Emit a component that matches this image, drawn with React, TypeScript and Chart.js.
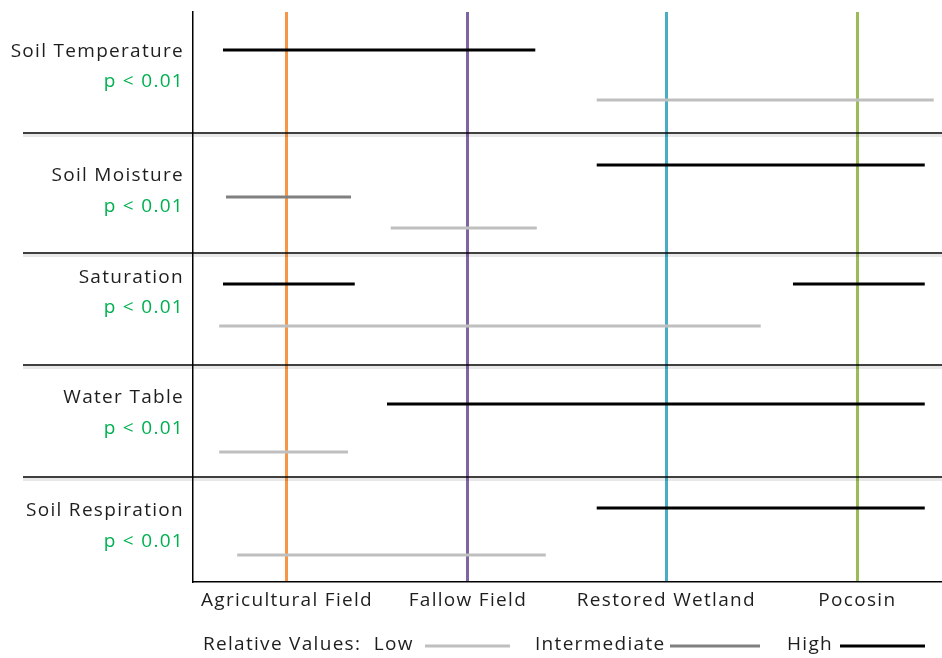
import React, { useEffect, useRef } from "react";
import { Chart, registerables } from "chart.js";

Chart.register(...registerables);

// ---- data ----
const rows = ["Soil Temperature", "Soil Moisture", "Saturation", "Water Table", "Soil Respiration"];
const pValues = ["p < 0.01", "p < 0.01", "p < 0.01", "p < 0.01", "p < 0.01"];
// vertical position (0 = top, 570 = bottom) of each row's name and p-value label
const rowNameY = [40, 164, 266, 386, 499];
const rowPY = [69.5, 194.5, 295.5, 416.5, 529.5];
// row separators
const separatorY = [121, 241, 353, 465];

const sites = ["Agricultural Field", "Fallow Field", "Restored Wetland", "Pocosin"];
// positions of sites along the 0–100 horizontal scale
const sitePos = [12.55, 36.7, 63.2, 88.7];
const siteColors = ["#F79646", "#8064A2", "#4BACC6", "#9BBB59"];

// range segments: level 0 = Low, 1 = Intermediate, 2 = High
const segLevel = [2, 0, 2, 1, 0, 2, 2, 0, 2, 0, 2, 0];
const segY = [38, 88, 153, 185, 216, 272, 272, 314, 392, 440, 496, 543];
const segStart = [4.0, 53.9, 53.9, 4.4, 26.4, 4.0, 80.1, 3.5, 25.9, 3.5, 53.9, 5.9];
const segEnd = [45.7, 98.9, 97.7, 21.1, 45.9, 21.6, 97.7, 75.8, 97.7, 20.7, 97.7, 47.1];

const levelNames = ["Low", "Intermediate", "High"];
const levelColors = ["#BFBFBF", "#808080", "#000000"];

const TEXT = "#1e1e1e";
const GREEN = "#00B050";
const FONT = "'Open Sans', sans-serif";
const SPACING = "1.3px";

export default function App() {
  const ref = useRef<HTMLCanvasElement | null>(null);

  useEffect(() => {
    if (!ref.current) return;

    const yTicks: number[] = [];
    const yLabels: string[] = [];
    const yIsP: boolean[] = [];
    rows.forEach((r, i) => {
      yTicks.push(rowNameY[i]);
      yLabels.push(r);
      yIsP.push(false);
      yTicks.push(rowPY[i]);
      yLabels.push(pValues[i]);
      yIsP.push(true);
    });

    const datasets: any[] = [];
    // separator shadows and lines (extend into the label area)
    separatorY.forEach((y) => {
      datasets.push({
        data: [{ x: -22.7, y: y + 2.5 }, { x: 100, y: y + 2.5 }],
        borderColor: "rgba(0,0,0,0.09)",
        borderWidth: 3,
        pointRadius: 0,
        clip: false,
      });
      datasets.push({
        data: [{ x: -22.7, y }, { x: 100, y }],
        borderColor: "#000000",
        borderWidth: 1.5,
        pointRadius: 0,
        clip: false,
      });
    });
    segLevel.forEach((lv, i) => {
      datasets.push({
        data: [{ x: segStart[i], y: segY[i] }, { x: segEnd[i], y: segY[i] }],
        borderColor: levelColors[lv],
        borderWidth: 3,
        pointRadius: 0,
        borderCapStyle: "butt",
      });
    });

    const spacingPlugin = {
      id: "spacing",
      beforeUpdate(chart: any) {
        (chart.ctx as any).letterSpacing = SPACING;
      },
      beforeDraw(chart: any) {
        (chart.ctx as any).letterSpacing = SPACING;
      },
    };

    const legendPlugin = {
      id: "customLegend",
      afterDraw(chart: any) {
        const ctx = chart.ctx;
        ctx.save();
        (ctx as any).letterSpacing = SPACING;
        ctx.font = `19px ${FONT}`;
        ctx.fillStyle = TEXT;
        ctx.textBaseline = "middle";
        ctx.textAlign = "left";
        const y = 645;
        const textX = [203, 535, 787];
        const lineX = [[425, 510], [670, 760], [840, 925]];
        const texts = ["Relative Values:  " + levelNames[0], levelNames[1], levelNames[2]];
        texts.forEach((t, i) => {
          ctx.fillText(t, textX[i], y);
          ctx.beginPath();
          ctx.strokeStyle = levelColors[i];
          ctx.lineWidth = 3;
          ctx.moveTo(lineX[i][0], y + 1);
          ctx.lineTo(lineX[i][1], y + 1);
          ctx.stroke();
        });
        ctx.restore();
      },
    };

    const chart = new Chart(ref.current, {
      type: "scatter",
      data: { datasets },
      plugins: [spacingPlugin, legendPlugin],
      options: {
        animation: false,
        responsive: false,
        showLine: true,
        layout: { padding: { top: 12, right: 0, left: 0, bottom: 0 } },
        plugins: { legend: { display: false }, tooltip: { enabled: false } },
        scales: {
          x: {
            type: "linear",
            min: 0,
            max: 100,
            afterBuildTicks: (s: any) => {
              s.ticks = sitePos.map((v) => ({ value: v }));
            },
            afterFit: (s: any) => {
              s.height = 76;
              s.paddingLeft = 0;
              s.paddingRight = 0;
            },
            ticks: {
              autoSkip: false,
              maxRotation: 0,
              padding: 7,
              color: TEXT,
              font: { family: FONT, size: 19 },
              callback: (_v: any, i: number) => sites[i],
            },
            grid: {
              display: true,
              drawTicks: false,
              color: (c: any) => siteColors[c.index] ?? "transparent",
              lineWidth: 3,
            },
            border: { display: true, color: "#000", width: 1.5 },
          },
          y: {
            type: "linear",
            min: 0,
            max: 570,
            reverse: true,
            afterBuildTicks: (s: any) => {
              s.ticks = yTicks.map((v) => ({ value: v }));
            },
            afterFit: (s: any) => {
              s.width = 193;
              s.paddingTop = 0;
              s.paddingBottom = 0;
            },
            ticks: {
              autoSkip: false,
              padding: 9,
              color: (c: any) => (yIsP[c.index] ? GREEN : TEXT),
              font: { family: FONT, size: 19 },
              callback: (_v: any, i: number) => yLabels[i],
            },
            grid: { display: false, drawTicks: false },
            border: { display: true, color: "#000", width: 1.5 },
          },
        },
      } as any,
    });
    return () => chart.destroy();
  }, []);

  return (
    <div style={{ position: "fixed", left: 0, top: 0, width: 942, height: 658, background: "#fff" }}>
      <canvas ref={ref} width={942} height={658} />
    </div>
  );
}
